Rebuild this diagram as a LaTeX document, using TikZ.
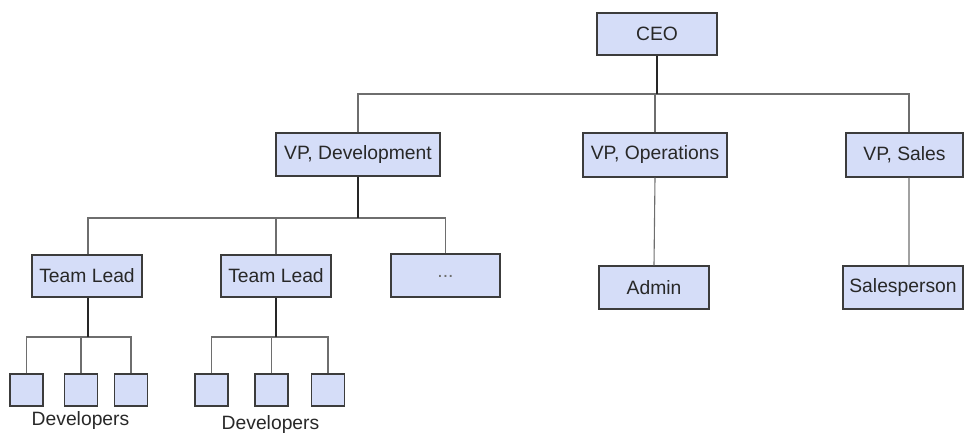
\documentclass[tikz,border=0pt]{standalone}
\usepackage{fontspec}
\setmainfont{Liberation Sans}
\definecolor{boxfill}{RGB}{213,221,248}
\definecolor{boxline}{RGB}{60,60,60}
\definecolor{txt}{RGB}{40,40,40}
\definecolor{wire}{RGB}{110,110,110}
\begin{document}
\begin{tikzpicture}[x=1bp,y=-1bp,
  orgbox/.style={draw=boxline,fill=boxfill,line width=1.2bp,inner sep=0pt,
    text=txt,font=\fontsize{19.3bp}{22bp}\selectfont},
  devbox/.style={orgbox,minimum width=33bp,minimum height=32bp},
  stem/.style={draw=black!85,line width=1.3bp},
  wirel/.style={draw=wire,line width=1.1bp},
  lbl/.style={text=txt,font=\fontsize{19.3bp}{22bp}\selectfont,inner sep=0pt}]
\useasboundingbox (0,0) rectangle (966,433);
% boxes
\node[orgbox,minimum width=120bp,minimum height=42bp] (ceo) at (657,34) {CEO};
\node[orgbox,minimum width=164bp,minimum height=43bp] (vpdev) at (358,154.5) {VP, Development};
\node[orgbox,minimum width=144bp,minimum height=44bp] (vpops) at (655,155) {VP, Operations};
\node[orgbox,minimum width=117bp,minimum height=44bp] (vpsales) at (904.5,155) {VP, Sales};
\node[orgbox,minimum width=110bp,minimum height=43bp] (admin) at (654,287.5) {Admin};
\node[orgbox,minimum width=120bp,minimum height=43bp] (sales) at (903,287.5) {Salesperson};
\node[orgbox,minimum width=110bp,minimum height=42bp] (tl1) at (87,276) {Team Lead};
\node[orgbox,minimum width=110bp,minimum height=42bp] (tl2) at (276,276) {Team Lead};
\node[orgbox,minimum width=109bp,minimum height=43bp,text=wire] (more) at (445.5,275.5) {\raisebox{-4bp}{...}};
\node[devbox] (d1) at (26.5,390) {};
\node[devbox] (d2) at (81,390) {};
\node[devbox] (d3) at (131,390) {};
\node[devbox] (d4) at (211.5,390) {};
\node[devbox] (d5) at (271.5,390) {};
\node[devbox] (d6) at (328,390) {};
\node[lbl] (lab1) at (80.5,421) {Developers};
\node[lbl] (lab2) at (270.5,425) {Developers};
% bus coordinates
\coordinate (b1) at (0,94);
\coordinate (b2) at (0,218);
\coordinate (b3) at (0,337);
% level 1
\draw[wirel] (vpdev.north) -- (vpdev.north |- b1) -- ([xshift=4.5bp]vpsales.north |- b1) -- ([xshift=4.5bp]vpsales.north);
\draw[wirel] (vpops.north) -- (vpops.north |- b1);
\draw[stem] (ceo.south) -- (ceo.south |- b1);
% level 2
\draw[wirel] ([xshift=1bp]tl1.north) -- ([xshift=1bp]tl1.north |- b2) -- (more.north |- b2) -- (more.north);
\draw[wirel] (tl2.north) -- (tl2.north |- b2);
\draw[stem] (vpdev.south) -- (vpdev.south |- b2);
\draw[wirel] (vpops.south) -- (admin.north);
\draw[wirel] ([xshift=4.5bp]vpsales.south) -- ([xshift=6bp]sales.north);
% level 3
\draw[wirel] (d1.north) -- (d1.north |- b3) -- (d3.north |- b3) -- (d3.north);
\draw[wirel] (d2.north) -- (d2.north |- b3);
\draw[stem] ([xshift=1bp]tl1.south) -- ([xshift=1bp]tl1.south |- b3);
\draw[wirel] (d4.north) -- (d4.north |- b3) -- (d6.north |- b3) -- (d6.north);
\draw[wirel] (d5.north) -- (d5.north |- b3);
\draw[stem] (tl2.south) -- (tl2.south |- b3);
\end{tikzpicture}
\end{document}
